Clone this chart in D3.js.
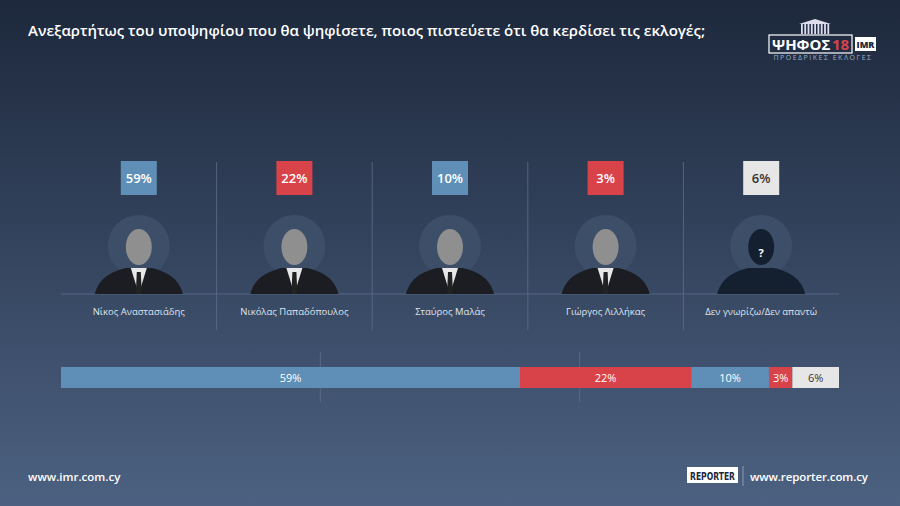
<!DOCTYPE html>
<html><head><meta charset="utf-8">
<script src="https://cdn.jsdelivr.net/npm/d3@7"></script>
<style>body{margin:0;background:#1e2a3f;}svg{display:block;font-family:"Open Sans",sans-serif;}</style>
</head><body><div id="chart"></div>
<script>
const names = ["Νίκος Αναστασιάδης","Νικόλας Παπαδόπουλος","Σταύρος Μαλάς","Γιώργος Λιλλήκας","Δεν γνωρίζω/Δεν απαντώ"];
const values = [59,22,10,3,6];
const colors = ["#5f8fb6","#d8434a","#5f8fb6","#d8434a","#e6e6e6"];

const W=900,H=506;
const svg=d3.select("#chart").append("svg").attr("width",W).attr("height",H);
const defs=svg.append("defs");
const g=defs.append("linearGradient").attr("id","bg").attr("x1",0).attr("y1",0).attr("x2",0).attr("y2",1);
g.append("stop").attr("offset","0%").attr("stop-color","#1d283c");
g.append("stop").attr("offset","100%").attr("stop-color","#4c6181");
svg.append("rect").attr("width",W).attr("height",H).attr("fill","url(#bg)");

// title
svg.append("text").attr("x",28).attr("y",36).attr("fill","#fff").attr("font-size",15).attr("font-weight",600)
  .attr("textLength",677).text("Ανεξαρτήτως του υποψηφίου που θα ψηφίσετε, ποιος πιστεύετε ότι θα κερδίσει τις εκλογές;");

// logo
const lg=svg.append("g");
const bx=d3.range(9);
lg.selectAll(".col").data(bx).join("rect").attr("x",d=>801+d*3.3).attr("y",24).attr("width",1.8).attr("height",10).attr("fill","#dde");
lg.append("path").attr("d","M799,24 L815,19 L831,24 Z").attr("fill","#dde");
lg.append("rect").attr("x",769).attr("y",35).attr("width",83).attr("height",18).attr("fill","none").attr("stroke","#fff").attr("stroke-width",1.2);
lg.append("text").attr("x",772).attr("y",50).attr("fill","#fff").attr("font-size",15).attr("font-weight",700).text("ΨΗΦΟΣ");
lg.append("text").attr("x",832).attr("y",50).attr("fill","#d8434a").attr("font-size",15).attr("font-weight",700).text("18");
lg.append("rect").attr("x",855).attr("y",37).attr("width",21).attr("height",14).attr("fill","#fff");
lg.append("text").attr("x",865.5).attr("y",48).attr("text-anchor","middle").attr("fill","#1d283c").attr("font-size",9).attr("font-weight",800).text("IMR");
lg.append("text").attr("x",823).attr("y",60).attr("text-anchor","middle").attr("fill","#9fb0c8").attr("font-size",7).attr("letter-spacing",1.5).text("ΠΡΟΕΔΡΙΚΕΣ ΕΚΛΟΓΕΣ");

// columns
const x0=61,x1=839;
const band=d3.scaleBand().domain(names).range([x0,x1]);
const line="#5d6f8a";
svg.append("line").attr("x1",x0).attr("x2",x1).attr("y1",294).attr("y2",294).attr("stroke",line).attr("stroke-width",0.8);
names.slice(1).forEach(n=>{
  svg.append("line").attr("x1",band(n)).attr("x2",band(n)).attr("y1",162).attr("y2",330).attr("stroke",line).attr("stroke-width",0.8);
});
const col=svg.selectAll(".col").data(names).join("g").attr("transform",d=>`translate(${band(d)+band.bandwidth()/2},0)`);
col.append("rect").attr("x",-18).attr("y",161).attr("width",36).attr("height",34).attr("fill",(d,i)=>colors[i]);
col.append("text").attr("y",183).attr("text-anchor","middle").attr("font-size",13).attr("font-weight",600)
  .attr("fill",(d,i)=>i===4?"#333":"#fff").text((d,i)=>values[i]+"%");
col.append("circle").attr("cy",246).attr("r",31).attr("fill","#3c4e68");
// silhouettes
col.append("path").attr("d","M-44,294 C-40,278 -28,272 -13,268 L13,268 C28,272 40,278 44,294 Z").attr("fill",(d,i)=>i===4?"#142030":"#1b1d22");
col.filter((d,i)=>i<4).append("path").attr("d","M-8,268 L0,294 L8,268 Z").attr("fill","#e8e8e8");
col.filter((d,i)=>i<4).append("path").attr("d","M-2,272 L2,272 L3,294 L-3,294 Z").attr("fill","#222");
col.append("ellipse").attr("cy",247).attr("rx",13).attr("ry",18).attr("fill",(d,i)=>i===4?"#142030":"#8f8f8f");
col.filter((d,i)=>i===4).append("text").attr("y",257).attr("text-anchor","middle").attr("fill","#fff").attr("font-size",11).attr("font-weight",700).text("?");
col.append("text").attr("y",315).attr("text-anchor","middle").attr("fill","#dfe5ee").attr("font-size",9.5).text(d=>d);

// stacked bar
const xs=d3.scaleLinear().domain([0,100]).range([x0,x1]);
[100/3,200/3].forEach(v=>svg.append("line").attr("x1",xs(v)).attr("x2",xs(v)).attr("y1",352).attr("y2",402).attr("stroke",line).attr("stroke-width",0.8));
let acc=0;
const segs=values.map((v,i)=>{const s={v,i,a:acc};acc+=v;return s;});
svg.selectAll(".seg").data(segs).join("rect").attr("x",d=>xs(d.a)).attr("width",d=>xs(d.a+d.v)-xs(d.a))
  .attr("y",367).attr("height",21).attr("fill",d=>colors[d.i]);
svg.selectAll(".segl").data(segs).join("text").attr("x",d=>xs(d.a+d.v/2)).attr("y",382).attr("text-anchor","middle")
  .attr("font-size",11).attr("fill",d=>d.i===4?"#333":"#fff").text(d=>d.v+"%");

// footer
svg.append("text").attr("x",28).attr("y",481).attr("fill","#fff").attr("font-size",11.5).attr("font-weight",600).text("www.imr.com.cy");
svg.append("rect").attr("x",687).attr("y",467).attr("width",51).attr("height",16).attr("fill","#fff");
svg.append("text").attr("x",690).attr("y",480).attr("fill","#1d283c").attr("font-size",11).attr("font-weight",700)
  .attr("font-family","Liberation Sans Narrow, DejaVu Sans Condensed, sans-serif").attr("textLength",45).attr("lengthAdjust","spacingAndGlyphs").text("REPORTER");
svg.append("line").attr("x1",743).attr("x2",743).attr("y1",466).attr("y2",486).attr("stroke","#8a9ab2");
svg.append("text").attr("x",750).attr("y",481).attr("fill","#fff").attr("font-size",11.5).attr("font-weight",600).attr("textLength",118).text("www.reporter.com.cy");
</script></body></html>
